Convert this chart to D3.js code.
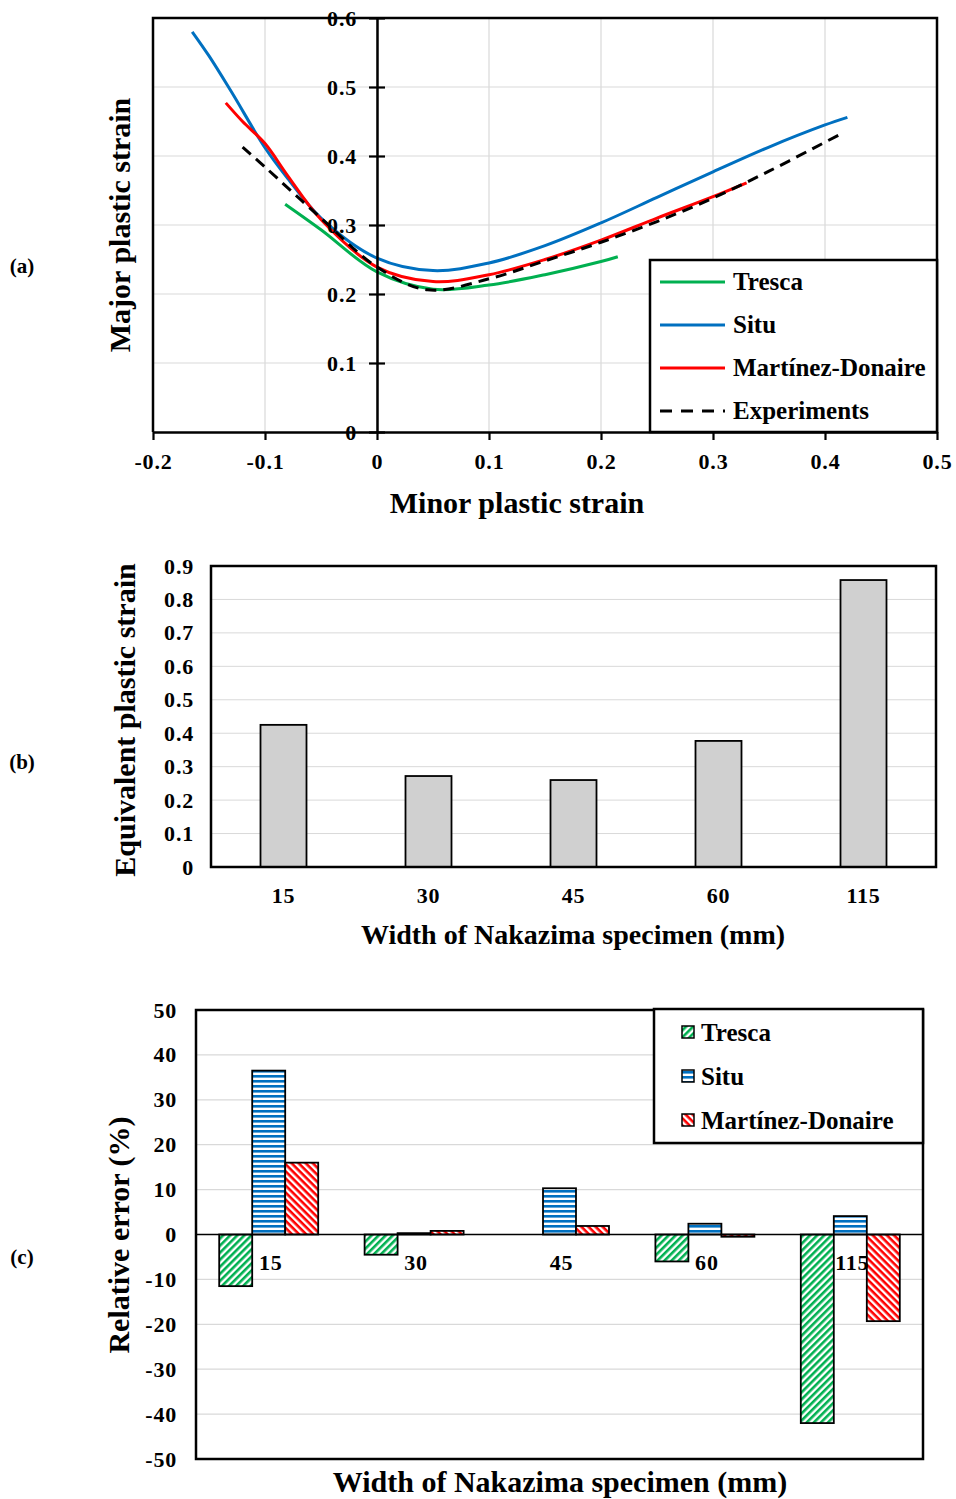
<!DOCTYPE html>
<html>
<head>
<meta charset="utf-8">
<script src="https://cdn.jsdelivr.net/npm/d3@7"></script>
<style>
  body { margin: 0; background: #fff; }
  svg { display: block; font-family: "Liberation Serif", "Times New Roman", serif; font-weight: bold; }
</style>
</head>
<body>
<svg id="chart" width="956" height="1499"></svg>
<script>
// ---- panel (a): forming limit curves ----
const tresca = [[-0.082, 0.33], [-0.05, 0.293], [0, 0.232], [0.05, 0.207], [0.1, 0.213], [0.15, 0.228], [0.2, 0.247], [0.215, 0.254]];
const situ = [[-0.165, 0.58], [-0.15, 0.545], [-0.13, 0.493], [-0.1, 0.412], [-0.08, 0.368], [-0.05, 0.31], [0, 0.252], [0.05, 0.234], [0.1, 0.245], [0.15, 0.27], [0.2, 0.303], [0.25, 0.34], [0.3, 0.377], [0.35, 0.413], [0.4, 0.445], [0.42, 0.456]];
const martinez = [[-0.135, 0.477], [-0.12, 0.45], [-0.1, 0.418], [-0.08, 0.372], [-0.05, 0.308], [0, 0.239], [0.05, 0.218], [0.1, 0.228], [0.15, 0.25], [0.2, 0.278], [0.25, 0.31], [0.3, 0.341], [0.33, 0.361]];
const experiments = [[-0.12, 0.413], [-0.1, 0.384], [-0.05, 0.31], [0, 0.239], [0.045, 0.206], [0.1, 0.222], [0.15, 0.248], [0.2, 0.275], [0.25, 0.305], [0.3, 0.339], [0.35, 0.378], [0.4, 0.42], [0.412, 0.43]];
const xTicksA = [-0.2, -0.1, 0, 0.1, 0.2, 0.3, 0.4, 0.5];
const yTicksA = [0, 0.1, 0.2, 0.3, 0.4, 0.5, 0.6];

// ---- panel (b): equivalent plastic strain ----
const widths = ["15", "30", "45", "60", "115"];
const eqStrain = [0.425, 0.272, 0.26, 0.377, 0.858];
const yTicksB = [0, 0.1, 0.2, 0.3, 0.4, 0.5, 0.6, 0.7, 0.8, 0.9];

// ---- panel (c): relative error ----
const models = ["Tresca", "Situ", "Martínez-Donaire"];
const errTresca = [-11.5, -4.5, 0, -6, -42];
const errSitu = [36.5, 0.3, 10.3, 2.4, 4.1];
const errMartinez = [16, 0.8, 1.9, -0.5, -19.3];
const yTicksC = [-50, -40, -30, -20, -10, 0, 10, 20, 30, 40, 50];

const green = "#00b050", blue = "#0070c0", red = "#ff0000", grid = "#d9d9d9";
const tickFont = 22;
const svg = d3.select("#chart");
const defs = svg.append("defs");

// hatch patterns
function stripes(id, color, angle) {
  const p = defs.append("pattern").attr("id", id).attr("patternUnits", "userSpaceOnUse")
    .attr("width", 5).attr("height", 5).attr("patternTransform", `rotate(${angle})`);
  p.append("rect").attr("width", 5).attr("height", 5).attr("fill", "#fff");
  p.append("rect").attr("width", 5).attr("height", 2.6).attr("fill", color);
}
stripes("hatchGreen", green, -45);
stripes("hatchBlue", blue, 0);
stripes("hatchRed", red, 45);

function styleTicks(g) {
  g.selectAll("text").attr("font-size", tickFont).attr("font-family", "Liberation Serif")
    .attr("font-weight", "bold").attr("fill", "#000").attr("letter-spacing", 0.8);
}

// ================= (a) =================
const xA = d3.scaleLinear().domain([-0.2, 0.5]).range([153, 937]);
const yA = d3.scaleLinear().domain([0, 0.6]).range([432, 18]);
const gA = svg.append("g");

gA.append("g").selectAll("line.v").data(xTicksA.slice(1, -1)).join("line")
  .attr("x1", d => xA(d)).attr("x2", d => xA(d)).attr("y1", yA(0)).attr("y2", yA(0.6))
  .attr("stroke", grid).attr("stroke-width", 1.2);
gA.append("g").selectAll("line.h").data(yTicksA.slice(1)).join("line")
  .attr("x1", xA(-0.2)).attr("x2", xA(0.5)).attr("y1", d => yA(d)).attr("y2", d => yA(d))
  .attr("stroke", grid).attr("stroke-width", 1.2);

// frame
gA.append("path").attr("d", `M${xA(-0.2)},${yA(0)}V${yA(0.6)}H${xA(0.5)}V${yA(0)}`)
  .attr("fill", "none").attr("stroke", "#000").attr("stroke-width", 2.5);

const lineA = d3.line().x(d => xA(d[0])).y(d => yA(d[1])).curve(d3.curveCatmullRom.alpha(0.5));
const seriesA = [
  { name: "Tresca", data: tresca, color: green, dash: null },
  { name: "Situ", data: situ, color: blue, dash: null },
  { name: "Martínez-Donaire", data: martinez, color: red, dash: null },
  { name: "Experiments", data: experiments, color: "#000", dash: "11,7" }
];
gA.append("g").selectAll("path").data(seriesA).join("path")
  .attr("d", d => lineA(d.data)).attr("fill", "none")
  .attr("stroke", d => d.color).attr("stroke-width", 3)
  .attr("stroke-dasharray", d => d.dash);

// y axis at x = 0
const yAxisA = d3.axisLeft(yA).tickValues(yTicksA).tickFormat(d => String(d))
  .tickSizeInner(8).tickSizeOuter(0).tickPadding(12);
const yaxG = gA.append("g").attr("transform", `translate(${xA(0)},0)`).call(yAxisA);
yaxG.select(".domain").attr("stroke", "#000").attr("stroke-width", 2.5);
yaxG.selectAll(".tick line").attr("x1", -8).attr("x2", 8).attr("stroke-width", 2.2);
styleTicks(yaxG);

// x axis
const xAxisA = d3.axisBottom(xA).tickValues(xTicksA).tickFormat(d => String(d))
  .tickSizeInner(8).tickSizeOuter(0).tickPadding(13);
const xaxG = gA.append("g").attr("transform", `translate(0,${yA(0)})`).call(xAxisA);
xaxG.select(".domain").attr("stroke", "#000").attr("stroke-width", 2.5);
xaxG.selectAll(".tick line").attr("stroke-width", 2.2);
styleTicks(xaxG);

gA.append("text").attr("x", 517).attr("y", 513).attr("text-anchor", "middle").attr("font-size", 30).text("Minor plastic strain");
gA.append("text").attr("transform", "translate(130,225) rotate(-90)").attr("text-anchor", "middle").attr("font-size", 30).text("Major plastic strain");
svg.append("text").attr("x", 22).attr("y", 273).attr("text-anchor", "middle").attr("font-size", 21).text("(a)");

// legend (a)
const legA = gA.append("g");
legA.append("rect").attr("x", 650).attr("y", 260).attr("width", 287).attr("height", 172)
  .attr("fill", "#fff").attr("stroke", "#000").attr("stroke-width", 2.5);
const legItemA = legA.selectAll("g.item").data(seriesA).join("g").attr("class", "item")
  .attr("transform", (d, i) => `translate(0,${282 + i * 43})`);
legItemA.append("line").attr("x1", 660).attr("x2", 725).attr("y1", 0).attr("y2", 0)
  .attr("stroke", d => d.color).attr("stroke-width", 3).attr("stroke-dasharray", d => d.dash ? "12,9" : null);
legItemA.append("text").attr("x", 733).attr("y", 8).attr("font-size", 25).text(d => d.name);

// ================= (b) =================
const xB = d3.scaleBand().domain(widths).range([211, 936]);
const yB = d3.scaleLinear().domain([0, 0.9]).range([867, 566]);
const gB = svg.append("g");
gB.append("g").selectAll("line").data(yTicksB.slice(1, -1)).join("line")
  .attr("x1", 211).attr("x2", 936).attr("y1", d => yB(d)).attr("y2", d => yB(d))
  .attr("stroke", grid).attr("stroke-width", 1);
gB.append("g").selectAll("rect").data(widths).join("rect")
  .attr("x", d => xB(d) + xB.bandwidth() / 2 - 23).attr("width", 46)
  .attr("y", (d, i) => yB(eqStrain[i])).attr("height", (d, i) => yB(0) - yB(eqStrain[i]))
  .attr("fill", "#d0d0d0").attr("stroke", "#000").attr("stroke-width", 1.8);
gB.append("rect").attr("x", 211).attr("y", 566).attr("width", 725).attr("height", 301)
  .attr("fill", "none").attr("stroke", "#000").attr("stroke-width", 2.5);
const yAxisB = d3.axisLeft(yB).tickValues(yTicksB).tickFormat(d => String(d)).tickSize(0).tickPadding(17);
const ybG = gB.append("g").attr("transform", "translate(211,0)").call(yAxisB);
ybG.select(".domain").remove();
styleTicks(ybG);
const xAxisB = d3.axisBottom(xB).tickSize(0).tickPadding(20);
const xbG = gB.append("g").attr("transform", "translate(0,867)").call(xAxisB);
xbG.select(".domain").remove();
styleTicks(xbG);
gB.append("text").attr("x", 573).attr("y", 944).attr("text-anchor", "middle").attr("font-size", 28).text("Width of Nakazima specimen (mm)");
gB.append("text").attr("transform", "translate(135,720) rotate(-90)").attr("text-anchor", "middle").attr("font-size", 30).text("Equivalent plastic strain");
svg.append("text").attr("x", 22).attr("y", 769).attr("text-anchor", "middle").attr("font-size", 21).text("(b)");

// ================= (c) =================
const xC = d3.scaleBand().domain(widths).range([196, 923]);
const xInner = d3.scaleBand().domain(models).range([0, 99]);
const yC = d3.scaleLinear().domain([-50, 50]).range([1459, 1010]);
const gC = svg.append("g");
gC.append("g").selectAll("line").data(yTicksC.slice(1, -1).filter(d => d !== 0)).join("line")
  .attr("x1", 196).attr("x2", 923).attr("y1", d => yC(d)).attr("y2", d => yC(d))
  .attr("stroke", grid).attr("stroke-width", 1.3);

const errSeries = [
  { name: "Tresca", values: errTresca, fill: "url(#hatchGreen)" },
  { name: "Situ", values: errSitu, fill: "url(#hatchBlue)" },
  { name: "Martínez-Donaire", values: errMartinez, fill: "url(#hatchRed)" }
];
const cells = [];
errSeries.forEach(s => s.values.forEach((v, i) => cells.push({ model: s.name, cat: widths[i], v, fill: s.fill })));
gC.append("g").selectAll("rect").data(cells.filter(d => d.v !== 0)).join("rect")
  .attr("x", d => xC(d.cat) + xC.bandwidth() / 2 - 49.5 + xInner(d.model))
  .attr("width", xInner.bandwidth())
  .attr("y", d => yC(Math.max(0, d.v))).attr("height", d => Math.abs(yC(d.v) - yC(0)))
  .attr("fill", d => d.fill).attr("stroke", "#000").attr("stroke-width", 1.8);
gC.append("line").attr("x1", 196).attr("x2", 923).attr("y1", yC(0)).attr("y2", yC(0)).attr("stroke", "#000").attr("stroke-width", 1.3);
gC.append("rect").attr("x", 196).attr("y", 1010).attr("width", 727).attr("height", 449)
  .attr("fill", "none").attr("stroke", "#000").attr("stroke-width", 2.5);
const yAxisC = d3.axisLeft(yC).tickValues(yTicksC).tickFormat(d => String(d)).tickSize(0).tickPadding(19);
const ycG = gC.append("g").attr("transform", "translate(196,0)").call(yAxisC);
ycG.select(".domain").remove();
styleTicks(ycG);
const xAxisC = d3.axisBottom(xC).tickSize(0).tickPadding(20);
const xcG = gC.append("g").attr("transform", `translate(2,${yC(0)})`).call(xAxisC);
xcG.select(".domain").remove();
styleTicks(xcG);
gC.append("text").attr("x", 560).attr("y", 1492).attr("text-anchor", "middle").attr("font-size", 30).text("Width of Nakazima specimen (mm)");
gC.append("text").attr("transform", "translate(129,1235) rotate(-90)").attr("text-anchor", "middle").attr("font-size", 30).text("Relative error (%)");
svg.append("text").attr("x", 22).attr("y", 1264).attr("text-anchor", "middle").attr("font-size", 21).text("(c)");

// legend (c)
const legC = gC.append("g");
legC.append("rect").attr("x", 654).attr("y", 1009).attr("width", 269).attr("height", 134)
  .attr("fill", "#fff").attr("stroke", "#000").attr("stroke-width", 2.5);
const legItemC = legC.selectAll("g.item").data(errSeries).join("g").attr("class", "item")
  .attr("transform", (d, i) => `translate(0,${1032 + i * 44})`);
legItemC.append("rect").attr("x", 682).attr("y", -6).attr("width", 12).attr("height", 12)
  .attr("fill", d => d.fill).attr("stroke", "#000").attr("stroke-width", 1.5);
legItemC.append("text").attr("x", 701).attr("y", 9).attr("font-size", 25).text(d => d.name);
</script>
</body>
</html>
